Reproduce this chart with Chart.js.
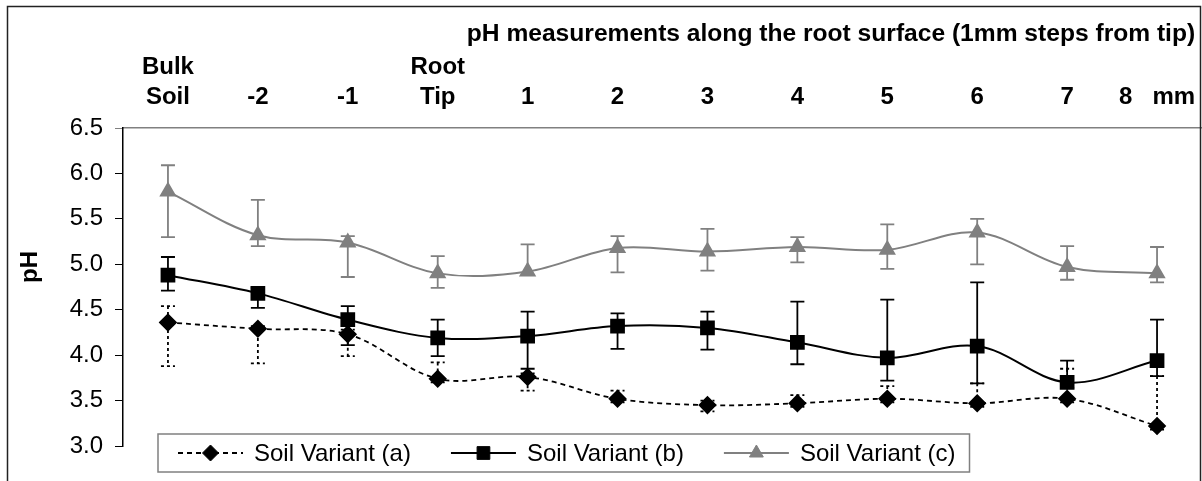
<!DOCTYPE html>
<html>
<head>
<meta charset="utf-8">
<script src="https://cdn.jsdelivr.net/npm/chart.js@4/dist/chart.umd.min.js"></script>
<style>
  body { margin: 0; background: #fff; }
  canvas { display: block; }
</style>
</head>
<body>
<canvas id="chart" width="1202" height="481" style="width:1202px;height:481px"></canvas>
<script>
const categories = [['Bulk', 'Soil'], '-2', '-1', ['Root', 'Tip'], '1', '2', '3', '4', '5', '6', '7', '8   mm'];
const seriesNames = ['Soil Variant (a)', 'Soil Variant (b)', 'Soil Variant (c)'];

const phA   = [4.36, 4.29, 4.23, 3.74, 3.76, 3.52, 3.45, 3.47, 3.52, 3.47, 3.52, 3.22];
const phAHi = [4.54, 4.32, 4.28, 3.92, 3.80, 3.61, 3.50, 3.56, 3.66, 3.69, 3.85, 3.77];
const phALo = [3.88, 3.91, 3.99, 3.70, 3.61, 3.48, 3.38, 3.43, 3.48, 3.43, 3.48, 3.18];

const phB   = [4.88, 4.68, 4.39, 4.19, 4.21, 4.32, 4.30, 4.14, 3.97, 4.10, 3.70, 3.94];
const phBHi = [5.08, 4.74, 4.54, 4.39, 4.48, 4.46, 4.48, 4.59, 4.61, 4.80, 3.94, 4.39];
const phBLo = [4.71, 4.52, 4.11, 3.99, 3.85, 4.07, 4.06, 3.90, 3.72, 3.69, 3.64, 3.77];

const phC   = [5.80, 5.32, 5.24, 4.90, 4.92, 5.18, 5.14, 5.19, 5.16, 5.35, 4.97, 4.90];
const phCHi = [6.09, 5.71, 5.31, 5.09, 5.22, 5.31, 5.39, 5.30, 5.44, 5.50, 5.20, 5.19];
const phCLo = [5.30, 5.20, 4.86, 4.74, 4.88, 4.91, 4.93, 5.02, 4.95, 5.00, 4.83, 4.80];

const FONT = '"Liberation Sans", Arial, sans-serif';
const GREY = '#808080';

// white background + outer frame
const frame = {
  id: 'frame',
  beforeDraw(chart) {
    const ctx = chart.ctx;
    ctx.save();
    ctx.fillStyle = '#fff';
    ctx.fillRect(0, 0, chart.width, chart.height);
    ctx.restore();
  },
  afterDraw(chart) {
    const ctx = chart.ctx;
    ctx.save();
    ctx.strokeStyle = '#222';
    ctx.lineWidth = 1.5;
    ctx.strokeRect(7.5, 6.5, chart.width - 9, chart.height + 20);
    ctx.restore();
  }
};

// error bars, drawn under each dataset's own line and markers
const errorBars = {
  id: 'errorBars',
  beforeDatasetDraw(chart, args) {
    const ds = chart.data.datasets[args.index];
    const y = chart.scales.y;
    const ctx = chart.ctx;
    ctx.save();
    ctx.strokeStyle = ds.borderColor;
    ctx.lineWidth = 1.8;
    ctx.setLineDash(ds.errDash || []);
    args.meta.data.forEach((pt, i) => {
      const yt = y.getPixelForValue(ds.errHi[i]);
      const yb = y.getPixelForValue(ds.errLo[i]);
      ctx.beginPath();
      ctx.moveTo(pt.x, yt); ctx.lineTo(pt.x, yb);
      ctx.moveTo(pt.x - 7, yt); ctx.lineTo(pt.x + 7, yt);
      ctx.moveTo(pt.x - 7, yb); ctx.lineTo(pt.x + 7, yb);
      ctx.stroke();
    });
    ctx.restore();
  }
};

// boxed legend sitting over the bottom of the plot
const legendBox = {
  id: 'legendBox',
  afterDraw(chart) {
    const ctx = chart.ctx, area = chart.chartArea;
    ctx.save();
    ctx.font = '24px ' + FONT;
    const lineLen = 65, gap = 11, itemGap = 40, padL = 20, padR = 14, h = 38;
    const items = chart.data.datasets.map(ds => ({ ds, w: ctx.measureText(ds.label).width }));
    const total = padL + padR + items.reduce((s, it) => s + lineLen + gap + it.w, 0) + itemGap * (items.length - 1);
    const left = area.left + 35, top = area.bottom - 12;
    ctx.fillStyle = '#fff';
    ctx.fillRect(left, top, total, h);
    ctx.strokeStyle = GREY;
    ctx.lineWidth = 1.5;
    ctx.strokeRect(left, top, total, h);
    const cy = top + h / 2;
    let x = left + padL;
    items.forEach(({ ds, w }) => {
      ctx.strokeStyle = ds.borderColor;
      ctx.lineWidth = ds.borderWidth;
      ctx.setLineDash(ds.borderDash || []);
      ctx.beginPath();
      ctx.moveTo(x, cy); ctx.lineTo(x + lineLen, cy);
      ctx.stroke();
      ctx.setLineDash([]);
      ctx.fillStyle = ds.pointBackgroundColor;
      ctx.strokeStyle = ds.pointBorderColor;
      ctx.lineWidth = 1;
      Chart.helpers.drawPoint(ctx, { pointStyle: ds.pointStyle, radius: ds.pointRadius, borderWidth: 1, rotation: 0 }, x + lineLen / 2, cy);
      ctx.fillStyle = '#000';
      ctx.textBaseline = 'middle';
      ctx.textAlign = 'left';
      ctx.fillText(ds.label, x + lineLen + gap, cy + 1);
      x += lineLen + gap + w + itemGap;
    });
    ctx.restore();
  }
};

new Chart(document.getElementById('chart'), {
  type: 'line',
  data: {
    labels: categories,
    datasets: [
      {
        label: seriesNames[0], data: phA, errHi: phAHi, errLo: phALo, errDash: [3, 3],
        borderColor: '#000', borderWidth: 1.8, borderDash: [5, 4],
        pointStyle: 'rectRot', pointRadius: 8,
        pointBackgroundColor: '#000', pointBorderColor: '#000', tension: 0.35
      },
      {
        label: seriesNames[1], data: phB, errHi: phBHi, errLo: phBLo,
        borderColor: '#000', borderWidth: 2,
        pointStyle: 'rect', pointRadius: 9,
        pointBackgroundColor: '#000', pointBorderColor: '#000', tension: 0.35
      },
      {
        label: seriesNames[2], data: phC, errHi: phCHi, errLo: phCLo,
        borderColor: GREY, borderWidth: 2,
        pointStyle: 'triangle', pointRadius: 8,
        pointBackgroundColor: GREY, pointBorderColor: GREY, tension: 0.35
      }
    ]
  },
  options: {
    responsive: false,
    animation: false,
    devicePixelRatio: 1,
    layout: { autoPadding: false, padding: { left: 0, right: 0, top: 0, bottom: 35 } },
    plugins: {
      legend: { display: false },
      tooltip: { enabled: false }
    },
    scales: {
      x: {
        position: 'top',
        offset: true,
        afterFit: s => { s.height = 128; s.paddingLeft = 0; s.paddingRight = 0; },
        grid: { display: false, drawTicks: false },
        border: { display: true, color: GREY, width: 1.5 },
        ticks: {
          autoSkip: false, maxRotation: 0, padding: 16, color: '#000',
          font: { family: FONT, size: 24, weight: 'bold', lineHeight: 1.25 }
        },
        title: {
          display: true, align: 'end',
          text: 'pH measurements along the root surface (1mm steps from tip) ',
          color: '#000', padding: { top: 19, bottom: 0 },
          font: { family: FONT, size: 24.6, weight: 'bold' }
        }
      },
      y: {
        min: 3, max: 6.5,
        afterFit: s => { s.width = 123; },
        grid: {
          display: true, drawOnChartArea: false, drawTicks: true, tickLength: 8,
          tickColor: c => (c.tick && c.tick.value === 6.5 ? GREY : '#000')
        },
        border: { display: true, color: '#000', width: 1.5 },
        ticks: {
          stepSize: 0.5, padding: 12, color: '#000',
          font: { family: FONT, size: 24 },
          callback: v => v.toFixed(1)
        },
        title: {
          display: true, text: '      pH', color: '#000',
          padding: { top: 16, bottom: 0 },
          font: { family: FONT, size: 24, weight: 'bold' }
        }
      }
    }
  },
  plugins: [frame, errorBars, legendBox]
});
</script>
</body>
</html>
